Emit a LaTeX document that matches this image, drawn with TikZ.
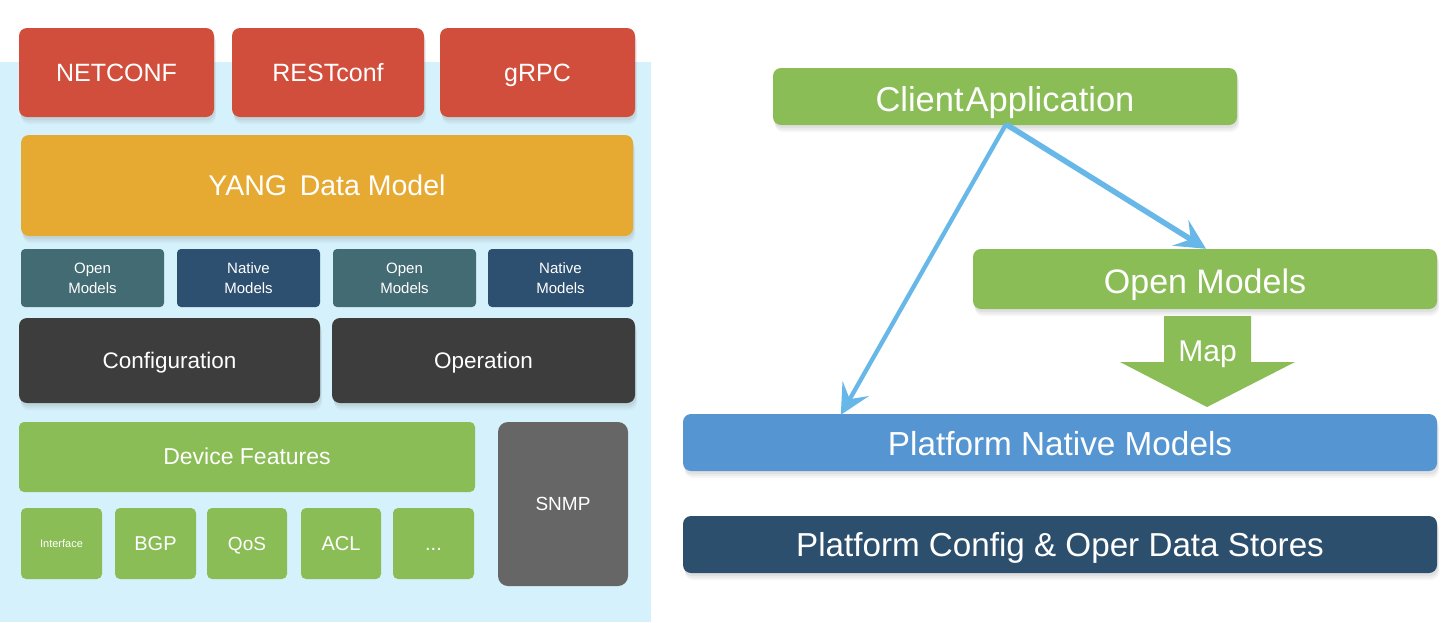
\documentclass[tikz,border=0pt]{standalone}
\usepackage{fontspec}
\setmainfont{Liberation Sans}
\usetikzlibrary{arrows.meta,shadows,calc}
\definecolor{bgblue}{HTML}{D4F1FC}
\definecolor{cred}{HTML}{D24E3C}
\definecolor{cyang}{HTML}{E6A931}
\definecolor{copen}{HTML}{436B73}
\definecolor{cnative}{HTML}{2E5070}
\definecolor{cdark}{HTML}{3D3D3D}
\definecolor{cgreen}{HTML}{8BBD56}
\definecolor{cgray}{HTML}{666666}
\definecolor{cpnm}{HTML}{5596D2}
\definecolor{cstore}{HTML}{2D4F6E}
\definecolor{carrow}{HTML}{67B8E8}
\tikzset{
  box/.style={rectangle, rounded corners=8pt, text=white, inner sep=0pt, align=center},
  shad/.style={
    drop shadow={opacity=0.07, shadow xshift=2pt, shadow yshift=-7pt},
    drop shadow={opacity=0.08, shadow xshift=1.5pt, shadow yshift=-5pt},
    drop shadow={opacity=0.10, shadow xshift=1pt, shadow yshift=-3pt}},
  conn/.style={draw=carrow, line width=4.5pt, -{Stealth[length=30pt,width=30pt,inset=12pt]}},
}
\newcommand{\capc}[2][0pt]{\raisebox{#1}[\fontcharht\font`H][0pt]{#2}}
\newcommand{\bx}[7]{%
  \node[box,#6,minimum width={#4-#2}, minimum height={#5-#3}] (#1) at ({(#2+#4)/2},{(#3+#5)/2}) {#7};}
\begin{document}
\begin{tikzpicture}[x=1pt,y=-1pt]
\useasboundingbox (0,0) rectangle (1450,622);
\fill[white] (0,0) rectangle (1450,622);
\fill[bgblue] (0,62) rectangle (651,622);
% left stack
\bx{netconf}{19}{28}{214}{117}{fill=cred,shad,font=\fontsize{25}{30}\selectfont}{\capc{NETCONF}}
\bx{restconf}{232}{28}{424}{117}{fill=cred,shad,font=\fontsize{25}{30}\selectfont}{\capc{RESTconf}}
\bx{grpc}{440}{28}{635}{117}{fill=cred,shad,font=\fontsize{25}{30}\selectfont}{\capc{gRPC}}
\bx{yang}{21}{135}{633}{236}{fill=cyang,shad,font=\fontsize{28.5}{30}\selectfont}{\capc{YANG\, Data Model}}
\bx{om1}{21}{249}{164}{307}{fill=copen,rounded corners=4pt,font=\fontsize{15}{20}\selectfont}{Open\\Models}
\bx{nm1}{177}{249}{320}{307}{fill=cnative,rounded corners=4pt,font=\fontsize{15}{20}\selectfont}{Native\\Models}
\bx{om2}{333}{249}{476}{307}{fill=copen,rounded corners=4pt,font=\fontsize{15}{20}\selectfont}{Open\\Models}
\bx{nm2}{488}{249}{633}{307}{fill=cnative,rounded corners=4pt,font=\fontsize{15}{20}\selectfont}{Native\\Models}
\bx{config}{19}{318}{320}{403}{fill=cdark,shad,font=\fontsize{22.5}{28}\selectfont}{\capc{Configuration}}
\bx{oper}{332}{318}{635}{403}{fill=cdark,shad,font=\fontsize{22.5}{28}\selectfont}{\capc{Operation}}
\bx{devf}{19}{422}{475}{492}{fill=cgreen,rounded corners=5pt,font=\fontsize{23}{26}\selectfont}{\capc{Device Features}}
\bx{intf}{21}{508}{102}{579}{fill=cgreen,rounded corners=5pt,font=\fontsize{11}{12}\selectfont}{\capc{Interface}}
\bx{bgp}{115}{508}{196}{579}{fill=cgreen,rounded corners=5pt,font=\fontsize{20}{22}\selectfont}{\capc{BGP}}
\bx{qos}{207}{508}{287}{579}{fill=cgreen,rounded corners=5pt,font=\fontsize{19}{22}\selectfont}{\capc{QoS}}
\bx{acl}{301}{508}{381}{579}{fill=cgreen,rounded corners=5pt,font=\fontsize{20}{22}\selectfont}{\capc{ACL}}
\bx{more}{393}{508}{474}{579}{fill=cgreen,rounded corners=5pt,font=\fontsize{20}{22}\selectfont}{\capc{...}}
\bx{snmp}{498}{422}{628}{586}{fill=cgray,rounded corners=10pt,font=\fontsize{19}{22}\selectfont}{\capc{SNMP}}
% right side
\bx{client}{773}{68}{1237}{125}{fill=cgreen,shad,font=\fontsize{34.5}{36}\selectfont}{\capc[-3pt]{Client\kern2pt Application}}
\bx{openm}{973}{249}{1437}{309}{fill=cgreen,shad,font=\fontsize{34}{36}\selectfont}{\capc[-3pt]{Open Models}}
\bx{native}{683}{414}{1437}{471}{fill=cpnm,shad,font=\fontsize{33.3}{35}\selectfont}{\capc[-1.5pt]{Platform Native Models}}
\bx{store}{683}{516}{1437}{573}{fill=cstore,shad,font=\fontsize{33.2}{35}\selectfont}{\capc[-1pt]{Platform Config \& Oper Data Stores}}
% map arrow
\fill[cgreen] (1164,316) -- (1251,316) -- (1251,362) -- (1295,362) -- (1207,407) -- (1120,362) -- (1164,362) -- cycle;
\node[text=white,font=\fontsize{30}{32}\selectfont] (map) at (1207.5,351) {\capc{Map}};
% connectors
\coordinate (cs) at ([xshift=1pt,yshift=1pt]client.south);
\draw[conn,line width=5.5pt] (cs) -- ([xshift=1pt]openm.north);
\draw[conn,line width=4.3pt] (cs) -- ([xshift=158pt,yshift=-1pt]native.north west);
\end{tikzpicture}
\end{document}
